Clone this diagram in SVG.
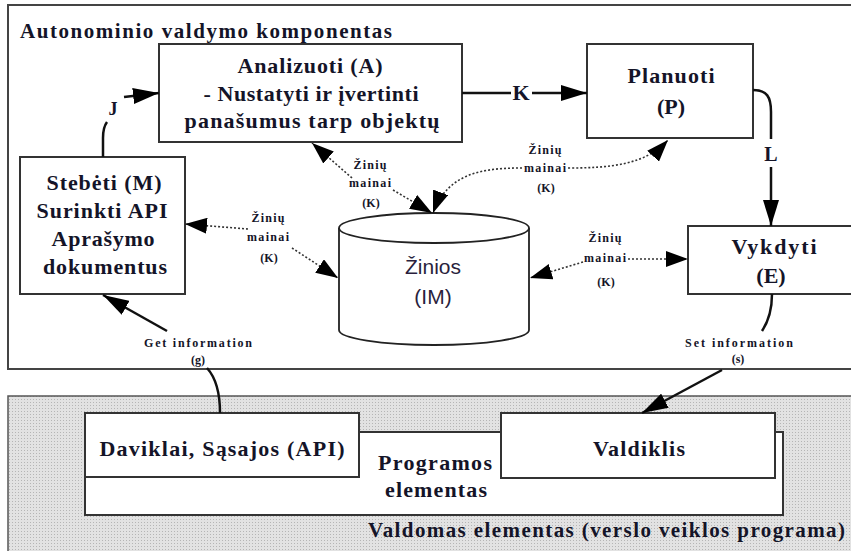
<svg xmlns="http://www.w3.org/2000/svg" width="851" height="551" viewBox="0 0 851 551">
<style>
.t{font-family:'Liberation Serif','Times New Roman',serif;font-weight:bold;fill:#141428;text-anchor:middle}
.st{text-anchor:start}
.b{font-size:22px}
.s{font-size:12px}
.box{fill:#fff;stroke:#333;stroke-width:2}
.sol{fill:none;stroke:#111;stroke-width:2.5}
.dot{fill:none;stroke:#333;stroke-width:1.6;stroke-dasharray:2 2}
</style>
<defs>
<pattern id="dots" width="3" height="3" patternUnits="userSpaceOnUse">
<rect width="3" height="3" fill="#e2e2e2"/>
<rect x="0" y="0" width="1" height="1" fill="#b5b5b5"/>
</pattern>
<marker id="ah" viewBox="0 0 26 16" refX="26" refY="8" markerWidth="26" markerHeight="16" markerUnits="userSpaceOnUse" orient="auto">
<path d="M0,0 L26,8 L0,16 z" fill="#000"/>
</marker>
<marker id="dh" viewBox="0 0 22 16" refX="22" refY="8" markerWidth="22" markerHeight="16" markerUnits="userSpaceOnUse" orient="auto">
<path d="M0,0 L22,8 L0,16 z" fill="#000"/>
</marker>
</defs>

<g id="autonominis">
<rect x="8" y="5" width="870" height="364" fill="#fff" stroke="#444" stroke-width="2"/>
<text class="t st" x="20" y="38" font-size="21" textLength="372" lengthAdjust="spacing">Autonominio valdymo komponentas</text>
</g>

<g id="valdomas">
<rect x="8" y="396" width="870" height="170" fill="url(#dots)" stroke="#555" stroke-width="1.5"/>
<text class="t st" x="368" y="537" font-size="21" textLength="477" lengthAdjust="spacing">Valdomas elementas (verslo veiklos programa)</text>
</g>

<g id="programos">
<rect x="85" y="432" width="698" height="83" class="box" stroke-width="1.6"/>
<text class="t b" x="435" y="470" textLength="114" lengthAdjust="spacing">Programos</text>
<text class="t b" x="436" y="497" textLength="102" lengthAdjust="spacing">elementas</text>
</g>

<g id="daviklai">
<rect x="85" y="413" width="274" height="64" class="box" stroke-width="1.6"/>
<text class="t b" x="222" y="456" textLength="245" lengthAdjust="spacing">Daviklai, Sąsajos (API)</text>
</g>

<g id="valdiklis">
<rect x="501" y="413" width="274" height="65" class="box" stroke-width="1.6"/>
<text class="t b" x="639" y="456" textLength="92" lengthAdjust="spacing">Valdiklis</text>
</g>

<g id="analizuoti">
<rect x="159" y="44" width="303" height="98" class="box"/>
<text class="t b" x="310" y="73" textLength="145" lengthAdjust="spacing">Analizuoti (A)</text>
<text class="t b" x="311" y="101" textLength="215" lengthAdjust="spacing">- Nustatyti ir įvertinti</text>
<text class="t b" x="312" y="128" textLength="255" lengthAdjust="spacing">panašumus tarp objektų</text>
</g>

<g id="planuoti">
<rect x="587" y="44" width="166" height="94" class="box"/>
<text class="t b" x="671" y="83" textLength="87" lengthAdjust="spacing">Planuoti</text>
<text class="t b" x="671" y="114">(P)</text>
</g>

<g id="stebeti">
<rect x="20" y="157" width="165" height="137" class="box"/>
<text class="t b" x="104" y="190" textLength="115" lengthAdjust="spacing">Stebėti (M)</text>
<text class="t b" x="102" y="218" textLength="131" lengthAdjust="spacing">Surinkti API</text>
<text class="t b" x="103" y="246" textLength="103" lengthAdjust="spacing">Aprašymo</text>
<text class="t b" x="105" y="274" textLength="124" lengthAdjust="spacing">dokumentus</text>
</g>

<g id="vykdyti">
<rect x="688" y="226" width="200" height="68" class="box"/>
<text class="t b" x="774" y="254" textLength="85" lengthAdjust="spacing">Vykdyti</text>
<text class="t b" x="771" y="283">(E)</text>
</g>

<g id="zinios">
<path d="M339,228 V330 A95,15 0 0 0 529,330 V228" fill="#fff" stroke="#222" stroke-width="1.8"/>
<ellipse cx="434" cy="228" rx="95" ry="15" fill="#fff" stroke="#222" stroke-width="1.8"/>
<text x="433" y="274" font-family="Liberation Sans, Arial, sans-serif" font-size="21" fill="#2a1f3d" text-anchor="middle">Žinios</text>
<text x="433" y="304" font-family="Liberation Sans, Arial, sans-serif" font-size="21" fill="#2a1f3d" text-anchor="middle">(IM)</text>
</g>

<g id="connectors">
<path class="sol" d="M462,93 H511"/>
<path class="sol" d="M532,93 H587" marker-end="url(#ah)"/>
<text class="t b" x="521" y="100">K</text>
<path class="sol" d="M753,90 C767,90 771,97 771,112 V139"/>
<path class="sol" d="M771,167 V226" marker-end="url(#ah)"/>
<text class="t" x="771" y="161" font-size="20">L</text>
<path class="sol" d="M103,157 V138 C103,130 104,126 107,122" stroke-width="1.8"/>
<path class="sol" d="M124,97 L159,93" marker-end="url(#ah)"/>
<text class="t" x="113" y="115" font-size="18">J</text>
<path class="dot" d="M352,178 L312,143" marker-end="url(#dh)"/>
<path class="dot" d="M393,190 L432,213" marker-end="url(#dh)"/>
<text class="t s" x="370" y="169" textLength="33" lengthAdjust="spacing">Žinių</text>
<text class="t s" x="370" y="187" textLength="42" lengthAdjust="spacing">mainai</text>
<text class="t s" x="371" y="207">(K)</text>
<path class="dot" d="M522,168 C485,168 448,172 433,213" marker-end="url(#dh)"/>
<path class="dot" d="M568,168 C610,168 645,165 668,140" marker-end="url(#dh)"/>
<text class="t s" x="545" y="154" textLength="33" lengthAdjust="spacing">Žinių</text>
<text class="t s" x="545" y="172" textLength="42" lengthAdjust="spacing">mainai</text>
<text class="t s" x="546" y="192">(K)</text>
<path class="dot" d="M248,229 L185,224" marker-end="url(#dh)"/>
<path class="dot" d="M292,248 L338,278" marker-end="url(#dh)"/>
<text class="t s" x="268" y="222" textLength="33" lengthAdjust="spacing">Žinių</text>
<text class="t s" x="268" y="241" textLength="42" lengthAdjust="spacing">mainai</text>
<text class="t s" x="269" y="262">(K)</text>
<path class="dot" d="M583,262 L530,278" marker-end="url(#dh)"/>
<path class="dot" d="M628,259 L688,259" marker-end="url(#dh)"/>
<text class="t s" x="605" y="242" textLength="33" lengthAdjust="spacing">Žinių</text>
<text class="t s" x="605" y="262" textLength="42" lengthAdjust="spacing">mainai</text>
<text class="t s" x="606" y="286">(K)</text>
<path class="sol" d="M220,413 C220,392 216,378 207,368"/>
<path class="sol" d="M167,331 L103,295" marker-end="url(#ah)"/>
<text class="t s" x="198" y="347" textLength="108" lengthAdjust="spacing">Get information</text>
<text class="t s" x="198" y="364">(g)</text>
<path class="sol" d="M772,294 C772,310 768,322 762,331"/>
<path class="sol" d="M722,370 L642,413" marker-end="url(#ah)"/>
<text class="t s" x="739" y="347" textLength="108" lengthAdjust="spacing">Set information</text>
<text class="t s" x="738" y="363">(s)</text>
</g>
</svg>
